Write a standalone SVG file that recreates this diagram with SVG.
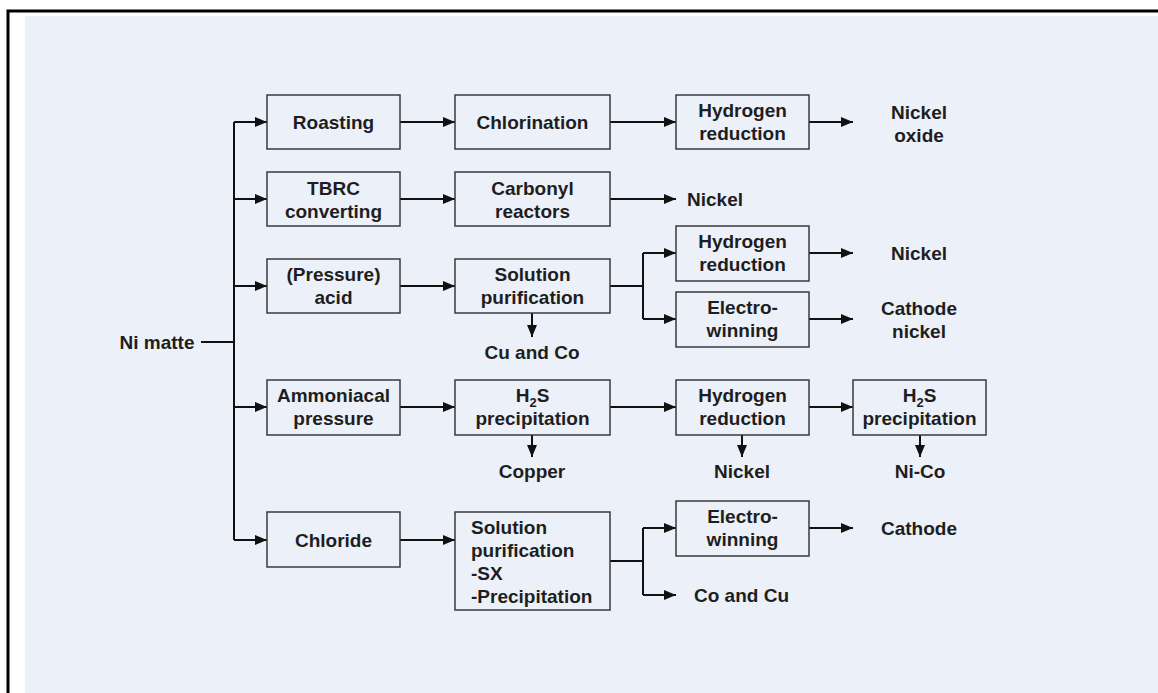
<svg xmlns="http://www.w3.org/2000/svg" width="1158" height="693" viewBox="0 0 1158 693">
<style>
.box{fill:#ECF0F9;stroke:#3a3a3a;stroke-width:1.5}
.t{font-family:"Liberation Sans",Arial,sans-serif;font-weight:bold;font-size:19px;fill:#1e1e1e;text-anchor:middle}
.tl{text-anchor:start}
.ln{fill:none;stroke:#111;stroke-width:2}
.sub{font-size:13px}
</style>
<defs>
<marker id="ah" markerUnits="userSpaceOnUse" markerWidth="14" markerHeight="12" refX="12" refY="6" orient="auto">
<path d="M0,1 L12,6 L0,11 z" fill="#111"/>
</marker>
</defs>
<rect x="0" y="0" width="1158" height="693" fill="#ffffff"/>
<rect x="25" y="16" width="1133" height="677" fill="#ECF0F9"/>
<path d="M8,693 V11 H1158" fill="none" stroke="#000" stroke-width="3"/>

<g id="connectors">
<path class="ln" d="M201,342 H234"/>
<path class="ln" d="M234,122 V540"/>
<path class="ln" d="M234,122 H267" marker-end="url(#ah)"/>
<path class="ln" d="M234,199 H267" marker-end="url(#ah)"/>
<path class="ln" d="M234,286 H267" marker-end="url(#ah)"/>
<path class="ln" d="M234,407 H267" marker-end="url(#ah)"/>
<path class="ln" d="M234,540 H267" marker-end="url(#ah)"/>
<path class="ln" d="M400,122 H455" marker-end="url(#ah)"/>
<path class="ln" d="M400,199 H455" marker-end="url(#ah)"/>
<path class="ln" d="M400,286 H455" marker-end="url(#ah)"/>
<path class="ln" d="M400,407 H455" marker-end="url(#ah)"/>
<path class="ln" d="M400,540 H455" marker-end="url(#ah)"/>
<path class="ln" d="M610,122 H676" marker-end="url(#ah)"/>
<path class="ln" d="M809,122 H853" marker-end="url(#ah)"/>
<path class="ln" d="M610,199 H676" marker-end="url(#ah)"/>
<path class="ln" d="M610,286 H643"/>
<path class="ln" d="M643,253 V319"/>
<path class="ln" d="M643,253 H676" marker-end="url(#ah)"/>
<path class="ln" d="M643,319 H676" marker-end="url(#ah)"/>
<path class="ln" d="M809,253 H853" marker-end="url(#ah)"/>
<path class="ln" d="M809,319 H853" marker-end="url(#ah)"/>
<path class="ln" d="M532,313 V337" marker-end="url(#ah)"/>
<path class="ln" d="M610,407 H676" marker-end="url(#ah)"/>
<path class="ln" d="M809,407 H853" marker-end="url(#ah)"/>
<path class="ln" d="M532,435 V457" marker-end="url(#ah)"/>
<path class="ln" d="M742,435 V457" marker-end="url(#ah)"/>
<path class="ln" d="M920,435 V457" marker-end="url(#ah)"/>
<path class="ln" d="M610,561 H643"/>
<path class="ln" d="M643,528 V595"/>
<path class="ln" d="M643,528 H676" marker-end="url(#ah)"/>
<path class="ln" d="M643,595 H676" marker-end="url(#ah)"/>
<path class="ln" d="M809,528 H853" marker-end="url(#ah)"/>
</g>

<g id="ni-matte"><text class="t" x="157" y="349">Ni matte</text></g>

<g id="roasting"><rect class="box" x="267" y="95" width="133" height="54"/><text class="t" x="333.5" y="129">Roasting</text></g>
<g id="tbrc"><rect class="box" x="267" y="172" width="133" height="54"/><text class="t" x="333.5" y="194.5">TBRC</text><text class="t" x="333.5" y="217.5">converting</text></g>
<g id="pressure-acid"><rect class="box" x="267" y="259" width="133" height="54"/><text class="t" x="333.5" y="281">(Pressure)</text><text class="t" x="333.5" y="304">acid</text></g>
<g id="ammoniacal"><rect class="box" x="267" y="380" width="133" height="55"/><text class="t" x="333.5" y="402">Ammoniacal</text><text class="t" x="333.5" y="425">pressure</text></g>
<g id="chloride"><rect class="box" x="267" y="512" width="133" height="55"/><text class="t" x="333.5" y="547">Chloride</text></g>

<g id="chlorination"><rect class="box" x="455" y="95" width="155" height="54"/><text class="t" x="532.5" y="129">Chlorination</text></g>
<g id="carbonyl"><rect class="box" x="455" y="172" width="155" height="54"/><text class="t" x="532.5" y="194.5">Carbonyl</text><text class="t" x="532.5" y="217.5">reactors</text></g>
<g id="solution-purification"><rect class="box" x="455" y="259" width="155" height="54"/><text class="t" x="532.5" y="281">Solution</text><text class="t" x="532.5" y="304">purification</text></g>
<g id="h2s-precipitation-1"><rect class="box" x="455" y="380" width="155" height="55"/><text class="t" x="532.5" y="402">H<tspan class="sub" dy="5">2</tspan><tspan dy="-5">S</tspan></text><text class="t" x="532.5" y="425">precipitation</text></g>
<g id="solution-purification-sx"><rect class="box" x="455" y="512" width="155" height="98"/><text class="t tl" x="471" y="534">Solution</text><text class="t tl" x="471" y="557">purification</text><text class="t tl" x="471" y="580">-SX</text><text class="t tl" x="471" y="603">-Precipitation</text></g>

<g id="hydrogen-reduction-1"><rect class="box" x="676" y="95" width="133" height="54"/><text class="t" x="742.5" y="117">Hydrogen</text><text class="t" x="742.5" y="140">reduction</text></g>
<g id="hydrogen-reduction-2"><rect class="box" x="676" y="226" width="133" height="55"/><text class="t" x="742.5" y="248">Hydrogen</text><text class="t" x="742.5" y="271">reduction</text></g>
<g id="electrowinning-1"><rect class="box" x="676" y="292" width="133" height="55"/><text class="t" x="742.5" y="314">Electro-</text><text class="t" x="742.5" y="337">winning</text></g>
<g id="hydrogen-reduction-3"><rect class="box" x="676" y="380" width="133" height="55"/><text class="t" x="742.5" y="402">Hydrogen</text><text class="t" x="742.5" y="425">reduction</text></g>
<g id="electrowinning-2"><rect class="box" x="676" y="501" width="133" height="55"/><text class="t" x="742.5" y="523">Electro-</text><text class="t" x="742.5" y="546">winning</text></g>

<g id="h2s-precipitation-2"><rect class="box" x="853" y="380" width="133" height="55"/><text class="t" x="919.5" y="402">H<tspan class="sub" dy="5">2</tspan><tspan dy="-5">S</tspan></text><text class="t" x="919.5" y="425">precipitation</text></g>

<g id="out-nickel-oxide"><text class="t" x="919" y="119">Nickel</text><text class="t" x="919" y="142">oxide</text></g>
<g id="out-nickel-1"><text class="t tl" x="687" y="206">Nickel</text></g>
<g id="out-nickel-2"><text class="t" x="919" y="260">Nickel</text></g>
<g id="out-cathode-nickel"><text class="t" x="919" y="315">Cathode</text><text class="t" x="919" y="338">nickel</text></g>
<g id="out-cu-co"><text class="t" x="532" y="359">Cu and Co</text></g>
<g id="out-copper"><text class="t" x="532" y="478">Copper</text></g>
<g id="out-nickel-3"><text class="t" x="742" y="478">Nickel</text></g>
<g id="out-ni-co"><text class="t" x="920" y="478">Ni-Co</text></g>
<g id="out-co-cu"><text class="t tl" x="694" y="602">Co and Cu</text></g>
<g id="out-cathode"><text class="t" x="919" y="535">Cathode</text></g>
</svg>
